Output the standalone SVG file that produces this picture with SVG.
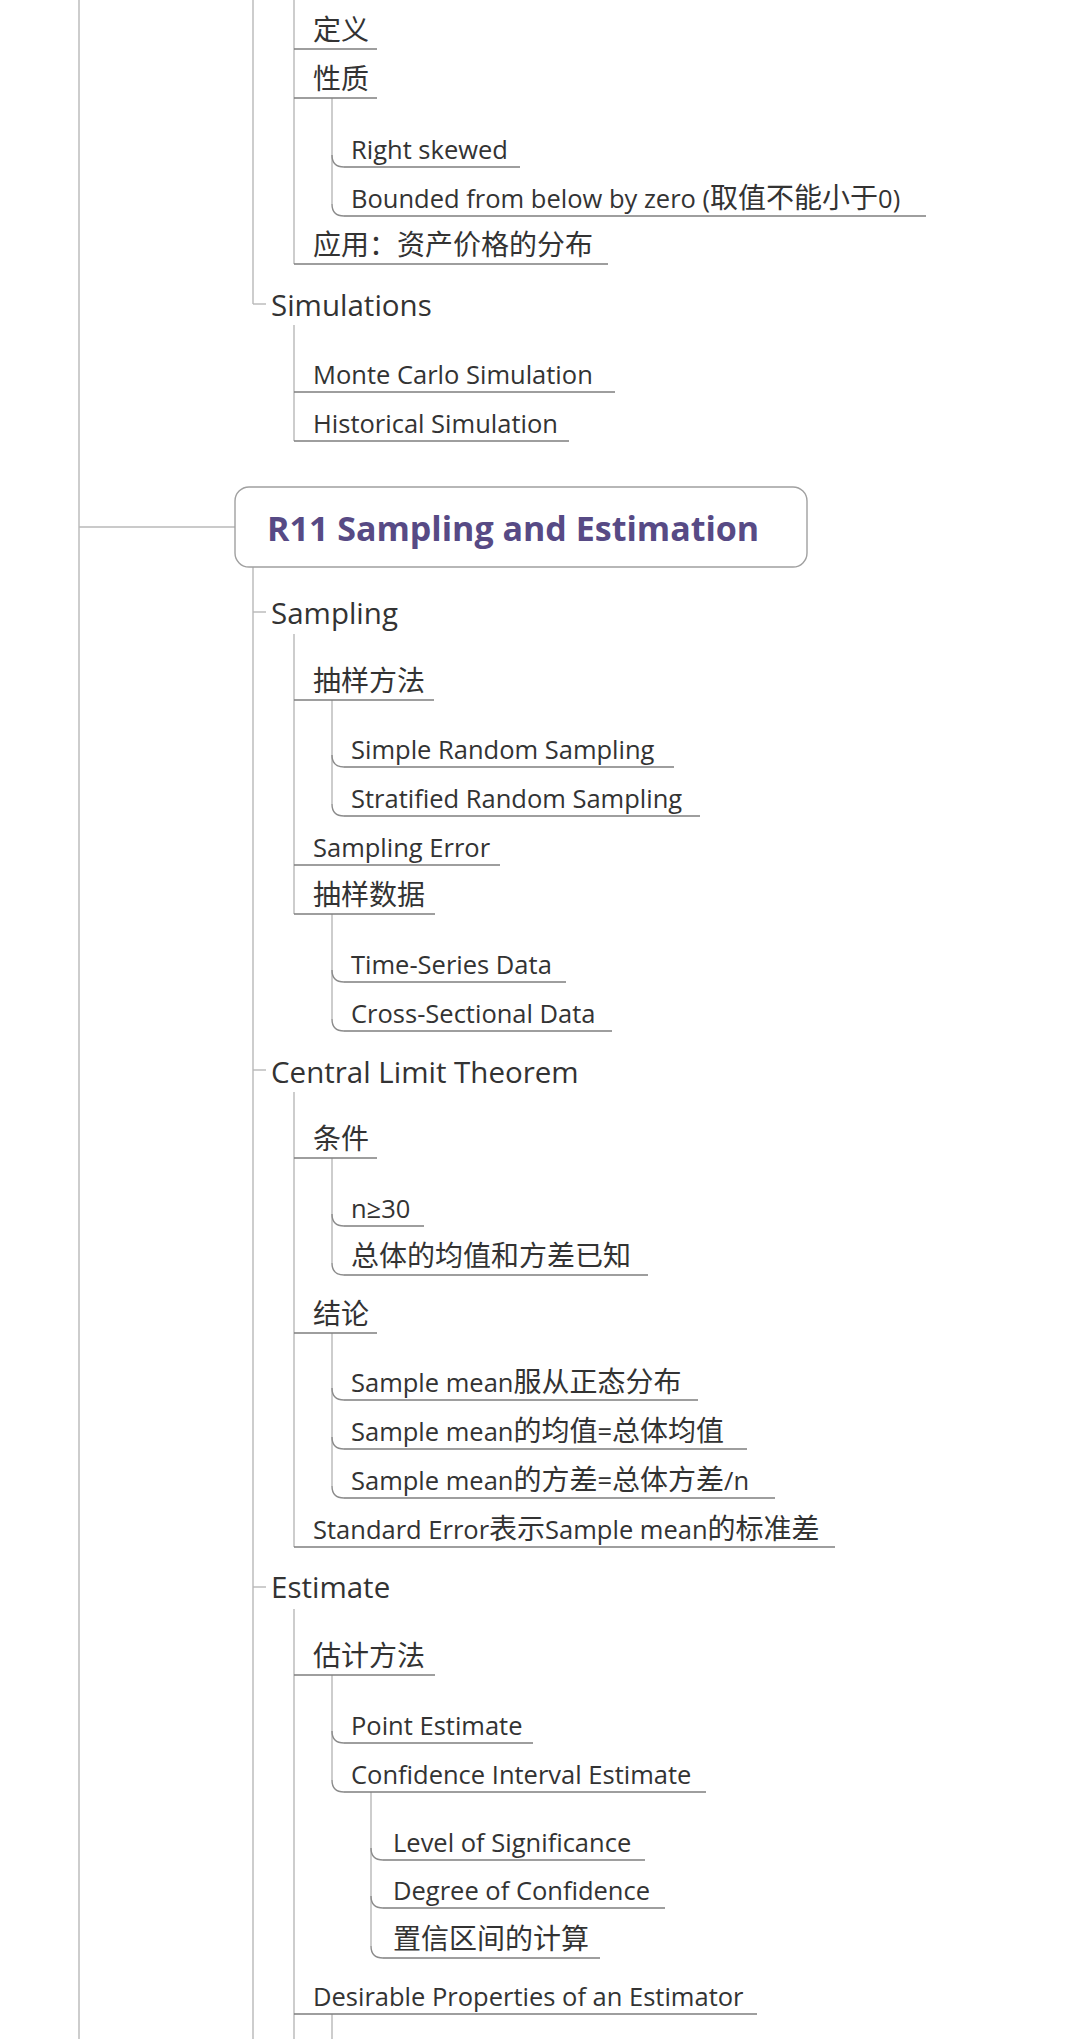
<svg xmlns="http://www.w3.org/2000/svg" width="1080" height="2039" viewBox="0 0 1080 2039">
<style>
.bg{fill:#ffffff}
.v{stroke:#b8b8b8;stroke-width:1.4;fill:none}
.k{stroke:#8c8c8c;stroke-width:1.4;fill:none}
.ul{stroke:#7e7e7e;stroke-width:1.4}
.t{font-family:"Open Sans","Noto Sans CJK SC",sans-serif;font-size:25.5px;fill:#333333}
.t2{font-family:"Open Sans","Noto Sans CJK SC",sans-serif;font-size:29.5px;fill:#333333}
.c{font-family:"Noto Sans CJK SC",sans-serif;font-size:28px}
.title{font-family:"Open Sans","Noto Sans CJK SC",sans-serif;font-size:34px;font-weight:bold;fill:#574a85}
.box{fill:#ffffff;stroke:#a0a0a0;stroke-width:1.4}
</style>
<rect class="bg" x="0" y="0" width="1080" height="2039"/>
<g id="connectors">
  <line class="v" x1="79" y1="0" x2="79" y2="2039"/>
  <line class="v" x1="79" y1="527" x2="235" y2="527"/>
  <line class="v" x1="253" y1="0" x2="253" y2="304"/>
  <line class="v" x1="253" y1="304" x2="266" y2="304"/>
  <line class="v" x1="253" y1="567" x2="253" y2="2039"/>
  <line class="v" x1="253" y1="612" x2="266" y2="612"/>
  <line class="v" x1="253" y1="1070" x2="266" y2="1070"/>
  <line class="v" x1="253" y1="1587" x2="266" y2="1587"/>
  <line class="v" x1="294" y1="0" x2="294" y2="264"/>
  <line class="v" x1="294" y1="325" x2="294" y2="441"/>
  <line class="v" x1="294" y1="634" x2="294" y2="914"/>
  <line class="v" x1="294" y1="1092" x2="294" y2="1547"/>
  <line class="v" x1="294" y1="1609" x2="294" y2="2039"/>
  <line class="v" x1="332" y1="98" x2="332" y2="204"/>
  <path class="k" d="M332 155 Q332 167 344 167"/>
  <path class="k" d="M332 204 Q332 216 344 216"/>
  <line class="v" x1="332" y1="700" x2="332" y2="804"/>
  <path class="k" d="M332 755 Q332 767 344 767"/>
  <path class="k" d="M332 804 Q332 816 344 816"/>
  <line class="v" x1="332" y1="914" x2="332" y2="1019"/>
  <path class="k" d="M332 970 Q332 982 344 982"/>
  <path class="k" d="M332 1019 Q332 1031 344 1031"/>
  <line class="v" x1="332" y1="1158" x2="332" y2="1263"/>
  <path class="k" d="M332 1214 Q332 1226 344 1226"/>
  <path class="k" d="M332 1263 Q332 1275 344 1275"/>
  <line class="v" x1="332" y1="1333" x2="332" y2="1486"/>
  <path class="k" d="M332 1388 Q332 1400 344 1400"/>
  <path class="k" d="M332 1437 Q332 1449 344 1449"/>
  <path class="k" d="M332 1486 Q332 1498 344 1498"/>
  <line class="v" x1="332" y1="1675" x2="332" y2="1780"/>
  <path class="k" d="M332 1731 Q332 1743 344 1743"/>
  <path class="k" d="M332 1780 Q332 1792 344 1792"/>
  <line class="v" x1="371" y1="1792" x2="371" y2="1946"/>
  <path class="k" d="M371 1848 Q371 1860 383 1860"/>
  <path class="k" d="M371 1896 Q371 1908 383 1908"/>
  <path class="k" d="M371 1946 Q371 1958 383 1958"/>
  <line class="v" x1="332" y1="2014" x2="332" y2="2039"/>
</g>
<g id="n-dingyi"><text class="t c" x="313" y="40">定义</text><line class="ul" x1="294" y1="49" x2="377" y2="49"/></g>
<g id="n-xingzhi"><text class="t c" x="313" y="89">性质</text><line class="ul" x1="294" y1="98" x2="377" y2="98"/></g>
<g id="n-rightskewed"><text class="t" x="351" y="159">Right skewed</text><line class="ul" x1="344" y1="167" x2="520" y2="167"/></g>
<g id="n-bounded"><text class="t" x="351" y="208">Bounded from below by zero (<tspan class="c">取值不能小于</tspan>0)</text><line class="ul" x1="344" y1="216" x2="926" y2="216"/></g>
<g id="n-yingyong"><text class="t c" x="313" y="255">应用：资产价格的分布</text><line class="ul" x1="294" y1="264" x2="608" y2="264"/></g>
<g id="n-simulations"><text class="t2" x="271" y="316">Simulations</text></g>
<g id="n-montecarlo"><text class="t" x="313" y="384">Monte Carlo Simulation</text><line class="ul" x1="294" y1="392" x2="615" y2="392"/></g>
<g id="n-historical"><text class="t" x="313" y="433">Historical Simulation</text><line class="ul" x1="294" y1="441" x2="569" y2="441"/></g>
<g id="n-r11"><rect class="box" x="235" y="487" width="572" height="80" rx="14"/><text class="title" x="267" y="541">R11 Sampling and Estimation</text></g>
<g id="n-sampling"><text class="t2" x="271" y="624">Sampling</text></g>
<g id="n-chouyangfangfa"><text class="t c" x="313" y="691">抽样方法</text><line class="ul" x1="294" y1="700" x2="434" y2="700"/></g>
<g id="n-simplerandom"><text class="t" x="351" y="759">Simple Random Sampling</text><line class="ul" x1="344" y1="767" x2="674" y2="767"/></g>
<g id="n-stratified"><text class="t" x="351" y="808">Stratified Random Sampling</text><line class="ul" x1="344" y1="816" x2="700" y2="816"/></g>
<g id="n-samplingerror"><text class="t" x="313" y="857">Sampling Error</text><line class="ul" x1="294" y1="865" x2="500" y2="865"/></g>
<g id="n-chouyangshuju"><text class="t c" x="313" y="905">抽样数据</text><line class="ul" x1="294" y1="914" x2="435" y2="914"/></g>
<g id="n-timeseries"><text class="t" x="351" y="974">Time-Series Data</text><line class="ul" x1="344" y1="982" x2="566" y2="982"/></g>
<g id="n-crosssectional"><text class="t" x="351" y="1023">Cross-Sectional Data</text><line class="ul" x1="344" y1="1031" x2="612" y2="1031"/></g>
<g id="n-clt"><text class="t2" x="271" y="1083">Central Limit Theorem</text></g>
<g id="n-tiaojian"><text class="t c" x="313" y="1149">条件</text><line class="ul" x1="294" y1="1158" x2="377" y2="1158"/></g>
<g id="n-n30"><text class="t" x="351" y="1218">n≥30</text><line class="ul" x1="344" y1="1226" x2="424" y2="1226"/></g>
<g id="n-zongti"><text class="t c" x="351" y="1266">总体的均值和方差已知</text><line class="ul" x1="344" y1="1275" x2="648" y2="1275"/></g>
<g id="n-jielun"><text class="t c" x="313" y="1324">结论</text><line class="ul" x1="294" y1="1333" x2="377" y2="1333"/></g>
<g id="n-sm1"><text class="t" x="351" y="1392">Sample mean<tspan class="c">服从正态分布</tspan></text><line class="ul" x1="344" y1="1400" x2="698" y2="1400"/></g>
<g id="n-sm2"><text class="t" x="351" y="1441">Sample mean<tspan class="c">的均值</tspan>=<tspan class="c">总体均值</tspan></text><line class="ul" x1="344" y1="1449" x2="747" y2="1449"/></g>
<g id="n-sm3"><text class="t" x="351" y="1490">Sample mean<tspan class="c">的方差</tspan>=<tspan class="c">总体方差</tspan>/n</text><line class="ul" x1="344" y1="1498" x2="775" y2="1498"/></g>
<g id="n-se"><text class="t" x="313" y="1539">Standard Error<tspan class="c">表示</tspan>Sample mean<tspan class="c">的标准差</tspan></text><line class="ul" x1="294" y1="1547" x2="835" y2="1547"/></g>
<g id="n-estimate"><text class="t2" x="271" y="1598">Estimate</text></g>
<g id="n-gujifangfa"><text class="t c" x="313" y="1666">估计方法</text><line class="ul" x1="294" y1="1675" x2="435" y2="1675"/></g>
<g id="n-point"><text class="t" x="351" y="1735">Point Estimate</text><line class="ul" x1="344" y1="1743" x2="533" y2="1743"/></g>
<g id="n-ci"><text class="t" x="351" y="1784">Confidence Interval Estimate</text><line class="ul" x1="344" y1="1792" x2="706" y2="1792"/></g>
<g id="n-los"><text class="t" x="393" y="1852">Level of Significance</text><line class="ul" x1="383" y1="1860" x2="645" y2="1860"/></g>
<g id="n-doc"><text class="t" x="393" y="1900">Degree of Confidence</text><line class="ul" x1="383" y1="1908" x2="665" y2="1908"/></g>
<g id="n-zhixin"><text class="t c" x="393" y="1949">置信区间的计算</text><line class="ul" x1="383" y1="1958" x2="600" y2="1958"/></g>
<g id="n-desirable"><text class="t" x="313" y="2006">Desirable Properties of an Estimator</text><line class="ul" x1="294" y1="2014" x2="757" y2="2014"/></g>
</svg>
